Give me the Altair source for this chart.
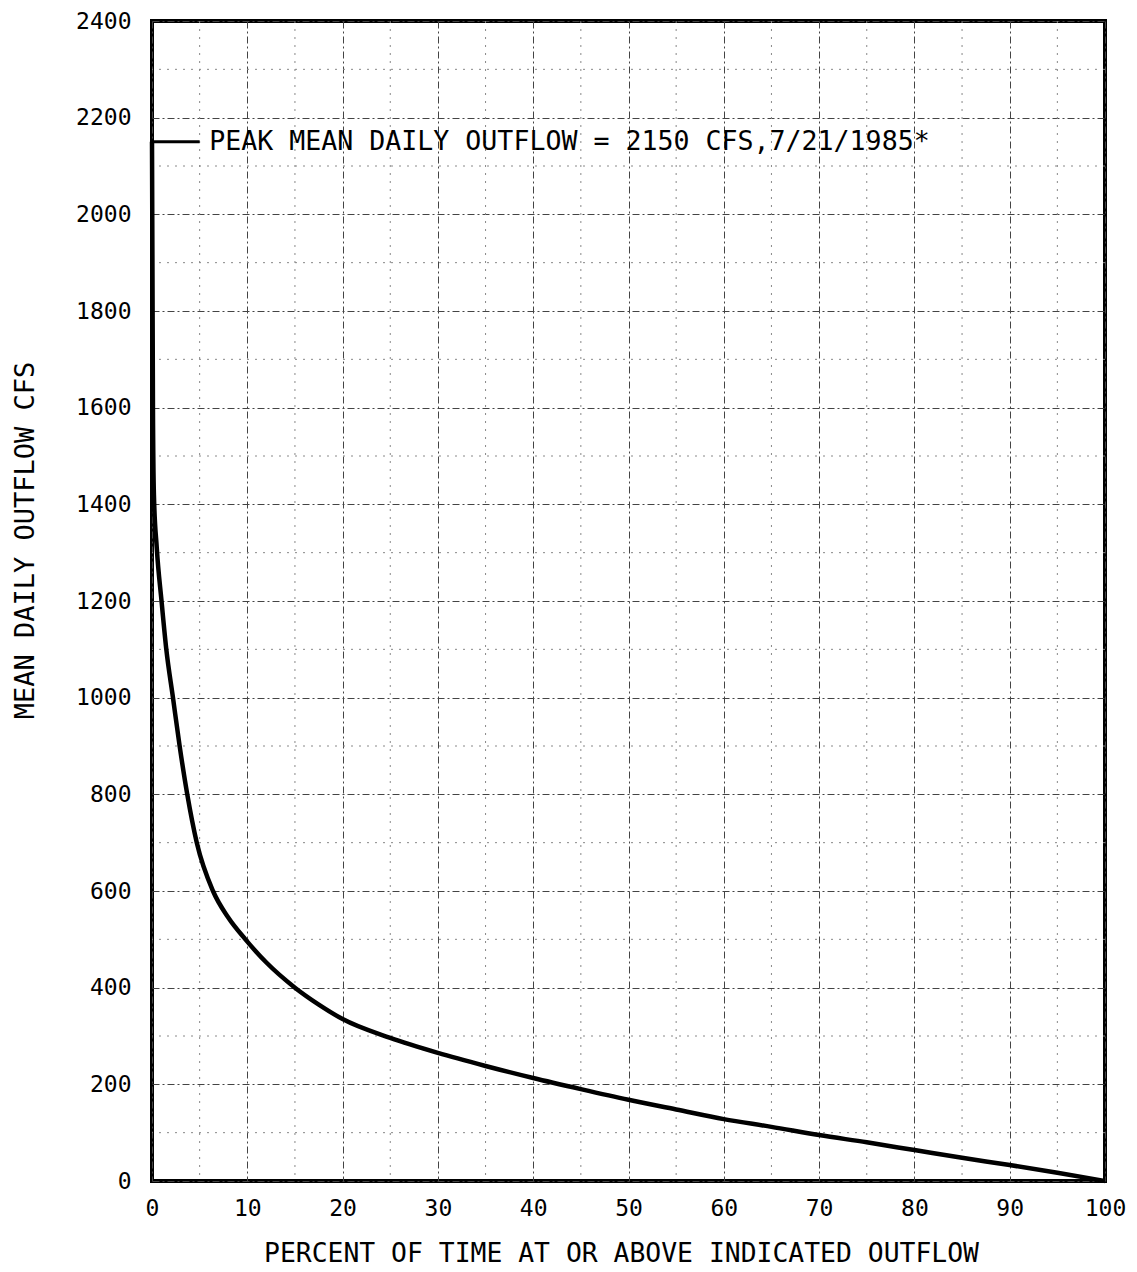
import altair as alt
import pandas as pd

# Duration curve
pct = [0, 0.1, 0.2, 0.5, 1.0, 1.5, 2.2, 2.9, 3.7, 4.7, 6.4, 8.0, 9.8, 12, 15, 17.5,
       20, 25, 30, 35, 40, 45, 50, 55, 60, 65, 70, 75, 80, 85, 90, 95, 100]
cfs = [2150, 1600, 1420, 1310, 1200, 1100, 1000, 900, 800, 700, 600, 545, 500, 452, 400, 365,
       335, 296, 265, 238, 213, 190, 168, 148, 128, 112, 95, 80, 64, 48, 33, 17, 0]

x_ticks = list(range(0, 101, 10))
y_ticks = list(range(0, 2401, 200))
minor_x = list(range(5, 100, 10))
minor_y = list(range(100, 2400, 200))

peak_value = 2150
peak_label = "PEAK MEAN DAILY OUTFLOW = 2150 CFS,7/21/1985*"
leader_x = [0, 5]
label_x = 6

FONT = "DejaVu Sans Mono"

curve = pd.DataFrame({"pct": pct, "cfs": cfs})
xs = alt.Scale(domain=[0, 100], nice=False, zero=False)
ys = alt.Scale(domain=[0, 2400], nice=False)

base = alt.Chart(curve).mark_line(color="black", strokeWidth=4.5, interpolate="monotone").encode(
    x=alt.X("pct:Q", scale=xs,
            axis=alt.Axis(values=x_ticks, format="d", title="PERCENT OF TIME AT OR ABOVE INDICATED OUTFLOW",
                          grid=True, gridColor="#444", gridDash=[7, 3, 2, 3], gridWidth=1,
                          domain=False, ticks=False, labelPadding=16, labelFontSize=23,
                          labelFlush=False, labelFont=FONT, labelColor="black",
                          titleFont=FONT, titleFontSize=26.4, titleX=469,
                          titleFontWeight="normal", titleColor="black", titlePadding=20)),
    y=alt.Y("cfs:Q", scale=ys,
            axis=alt.Axis(values=y_ticks, format="d", title="MEAN DAILY OUTFLOW CFS",
                          grid=True, gridColor="#444", gridDash=[7, 3, 2, 3], gridWidth=1,
                          domain=False, ticks=False, labelPadding=21, labelFontSize=23,
                          labelFlush=False, labelFont=FONT, labelColor="black",
                          titleFont=FONT, titleFontSize=27, titleY=519,
                          titleFontWeight="normal", titleColor="black", titlePadding=36)),
)

mx = alt.Chart(pd.DataFrame({"v": minor_x})).mark_rule(color="#888", strokeDash=[2, 6], strokeWidth=1).encode(
    x=alt.X("v:Q", scale=xs))
my = alt.Chart(pd.DataFrame({"v": minor_y})).mark_rule(color="#888", strokeDash=[2, 6], strokeWidth=1).encode(
    y=alt.Y("v:Q", scale=ys))

leader = alt.Chart(pd.DataFrame({"x": [leader_x[0]], "x2": [leader_x[1]], "y": [peak_value]})).mark_rule(
    color="black", strokeWidth=3).encode(x=alt.X("x:Q", scale=xs), x2="x2:Q", y=alt.Y("y:Q", scale=ys))

label = alt.Chart(pd.DataFrame({"x": [label_x], "y": [peak_value], "t": [peak_label]})).mark_text(
    align="left", baseline="middle", font=FONT, fontSize=26.6, color="black").encode(
    x=alt.X("x:Q", scale=xs), y=alt.Y("y:Q", scale=ys), text="t:N")

chart = alt.layer(mx, my, base, leader, label).properties(
    width=953, height=1160,
    autosize=alt.AutoSizeParams(type="none"),
    padding={"left": 152, "top": 21, "right": 32, "bottom": 91},
    background="white",
).configure_view(stroke="black", strokeWidth=4)

chart.save("out.html", embed_options={"renderer": "svg", "actions": False})
